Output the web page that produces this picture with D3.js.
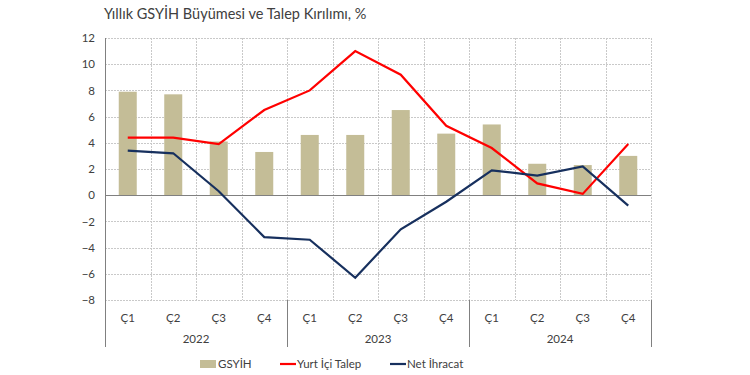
<!DOCTYPE html>
<meta charset="utf-8">
<script src="https://d3js.org/d3.v7.min.js"></script>
<style>
  body { margin: 0; background: #fff; }
  text { font-family: Lato, "Liberation Sans", sans-serif; fill: #404040; }
</style>
<body>
<div id="canvas"></div>
<script>
  // veriler
  var years = ["2022", "2023", "2024"];
  var quarters = ["Ç1", "Ç2", "Ç3", "Ç4"];
  var gsyih = [7.9, 7.7, 4.1, 3.3, 4.6, 4.6, 6.5, 4.7, 5.4, 2.4, 2.3, 3.0];
  var yurtIci = [4.4, 4.4, 3.9, 6.5, 8.0, 11.0, 9.2, 5.3, 3.6, 0.9, 0.1, 3.9];
  var netIhracat = [3.4, 3.2, 0.3, -3.2, -3.4, -6.3, -2.6, -0.5, 1.9, 1.5, 2.2, -0.8];
  var yTicks = [-8, -6, -4, -2, 0, 2, 4, 6, 8, 10, 12];

  var width = 750, height = 375;
  var margin = {top: 38, right: 99, bottom: 75, left: 105};
  var w = width - margin.left - margin.right;
  var h = height - margin.top - margin.bottom;

  var keys = [];
  years.forEach(function(yr) { quarters.forEach(function(q) { keys.push(yr + "-" + q); }); });

  var svg = d3.select("#canvas").append("svg")
      .attr("width", width).attr("height", height);

  svg.append("text")
      .attr("x", 104).attr("y", 19)
      .attr("font-size", "14.5px")
      .text("Yıllık GSYİH Büyümesi ve Talep Kırılımı, %");

  var g = svg.append("g").attr("transform", "translate(" + margin.left + "," + margin.top + ")");

  var x = d3.scaleBand().domain(keys).range([0, w]);
  var y = d3.scaleLinear().domain([-8, 12]).range([h, 0]);

  // grid -------------------------------------------
  g.selectAll(".hgrid").data(yTicks).enter().append("line")
      .attr("x1", 0).attr("x2", w)
      .attr("y1", function(d) { return Math.round(y(d)) + 0.5; })
      .attr("y2", function(d) { return Math.round(y(d)) + 0.5; })
      .attr("stroke", "#c9c9c9").attr("stroke-dasharray", "2,1");

  g.selectAll(".vgrid").data(keys.slice(1).concat(["end"])).enter().append("line")
      .attr("x1", function(d, i) { return Math.round(x.step() * (i + 1)) + 0.5; })
      .attr("x2", function(d, i) { return Math.round(x.step() * (i + 1)) + 0.5; })
      .attr("y1", 0).attr("y2", h)
      .attr("stroke", "#c9c9c9").attr("stroke-dasharray", "2,1");

  // barras -----------------------------------------
  var bw = 18;
  g.selectAll(".bar").data(gsyih).enter().append("rect")
      .attr("x", function(d, i) { return x(keys[i]) + x.bandwidth() / 2 - bw / 2; })
      .attr("width", bw)
      .attr("y", function(d) { return y(Math.max(0, d)); })
      .attr("height", function(d) { return Math.abs(y(d) - y(0)); })
      .attr("fill", "#c4bd97");

  // zero line + y axis
  g.append("line").attr("x1", 0).attr("x2", w)
      .attr("y1", Math.round(y(0)) + 0.5).attr("y2", Math.round(y(0)) + 0.5)
      .attr("stroke", "#808080").attr("stroke-width", 1);

  g.append("line").attr("x1", 0.5).attr("x2", 0.5).attr("y1", 0).attr("y2", h)
      .attr("stroke", "#808080");

  var yAxis = d3.axisLeft(y).tickValues(yTicks).tickSize(0).tickPadding(10);
  var ya = g.append("g").call(yAxis);
  ya.select(".domain").remove();
  ya.selectAll("text").attr("font-size", "11.5px").style("fill", "#404040")
      .style("font-family", "Lato, 'Liberation Sans', sans-serif");

  // linhas -----------------------------------------
  var line = d3.line()
      .x(function(d, i) { return x(keys[i]) + x.bandwidth() / 2; })
      .y(function(d) { return y(d); });

  g.append("path").attr("d", line(yurtIci))
      .attr("fill", "none").attr("stroke", "#ff0000").attr("stroke-width", 2.2);
  g.append("path").attr("d", line(netIhracat))
      .attr("fill", "none").attr("stroke", "#17305e").attr("stroke-width", 2.2);

  // eixo x -----------------------------------------
  g.selectAll(".qlab").data(keys).enter().append("text")
      .attr("x", function(d) { return x(d) + x.bandwidth() / 2; })
      .attr("y", h + 22)
      .attr("text-anchor", "middle").attr("font-size", "11.5px")
      .text(function(d) { return d.split("-")[1]; });

  g.selectAll(".ylab").data(years).enter().append("text")
      .attr("x", function(d, i) { return x.step() * (i * 4 + 2); })
      .attr("y", h + 43)
      .attr("text-anchor", "middle").attr("font-size", "11.5px")
      .text(function(d) { return d; });

  g.selectAll(".sep").data([0, 1, 2, 3]).enter().append("line")
      .attr("x1", function(d) { return Math.round(x.step() * d * 4) + 0.5; })
      .attr("x2", function(d) { return Math.round(x.step() * d * 4) + 0.5; })
      .attr("y1", h).attr("y2", h + 47)
      .attr("stroke", "#808080");

  // legenda ----------------------------------------
  var leg = svg.append("g").attr("transform", "translate(0,364)");
  leg.append("rect").attr("x", 200).attr("y", -4).attr("width", 16).attr("height", 8).attr("fill", "#c4bd97");
  leg.append("text").attr("x", 218).attr("y", 4).attr("font-size", "11.5px").text("GSYİH");
  leg.append("line").attr("x1", 280).attr("x2", 296).attr("y1", 0).attr("y2", 0)
      .attr("stroke", "#ff0000").attr("stroke-width", 2.2);
  leg.append("text").attr("x", 297).attr("y", 4).attr("font-size", "11.5px").text("Yurt İçi Talep");
  leg.append("line").attr("x1", 390).attr("x2", 406).attr("y1", 0).attr("y2", 0)
      .attr("stroke", "#17305e").attr("stroke-width", 2.2);
  leg.append("text").attr("x", 407).attr("y", 4).attr("font-size", "11.5px").text("Net İhracat");
</script>
</body>
